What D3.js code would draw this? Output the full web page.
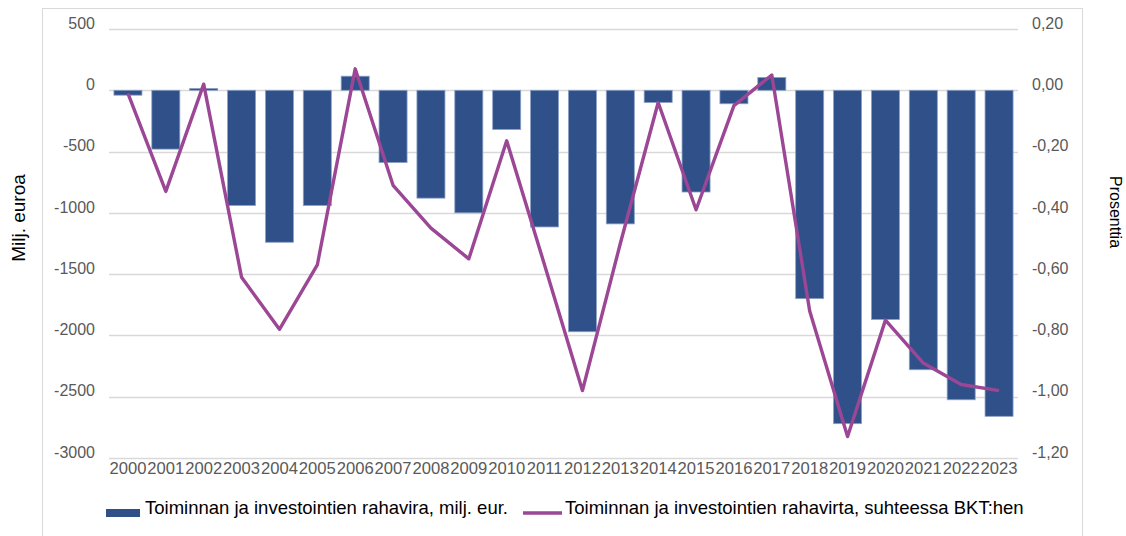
<!DOCTYPE html>
<html>
<head>
<meta charset="utf-8">
<script src="https://cdn.jsdelivr.net/npm/d3@7"></script>
<style>
  body { margin: 0; background: #fff; }
  svg { font-family: "Liberation Sans", Arial, sans-serif; }
  .tick text { fill: #595959; font-size: 16px; }
</style>
</head>
<body>
<div id="chart"></div>
<script>
// vuodet
var years = ["2000","2001","2002","2003","2004","2005","2006","2007","2008","2009","2010","2011",
             "2012","2013","2014","2015","2016","2017","2018","2019","2020","2021","2022","2023"];

// Toiminnan ja investointien rahavirta, milj. eur.
var cashFlow = [-40, -480, 15, -940, -1240, -940, 115, -590, -880, -1000, -320, -1115,
                -1970, -1090, -100, -830, -110, 105, -1700, -2720, -1870, -2280, -2525, -2660];

// suhteessa BKT:hen, %
var shareOfGdp = [-0.01, -0.33, 0.02, -0.61, -0.78, -0.57, 0.07, -0.31, -0.45, -0.55, -0.165, -0.57,
                  -0.98, -0.50, -0.04, -0.39, -0.05, 0.05, -0.72, -1.13, -0.75, -0.89, -0.96, -0.98];

var leftTicks = [500, 0, -500, -1000, -1500, -2000, -2500, -3000];
var rightTicks = [0.2, 0, -0.2, -0.4, -0.6, -0.8, -1.0, -1.2];

var barLabel = "Toiminnan ja investointien rahavira, milj. eur.";
var lineLabel = "Toiminnan ja investointien rahavirta, suhteessa BKT:hen";

var width = 1126, height = 536;
var plot = {left: 109, right: 1018, top: 29, bottom: 458};
var barColor = "#2f5089", lineColor = "#9b4795";

var svg = d3.select("#chart").append("svg")
    .attr("width", width)
    .attr("height", height);

// kehys
svg.append("rect")
    .attr("x", 42.5).attr("y", 8.5)
    .attr("width", 1040).attr("height", 560)
    .attr("fill", "none")
    .attr("stroke", "#d9d9d9");

var x = d3.scaleBand()
    .domain(years)
    .range([plot.left, plot.right])
    .paddingInner(0.26)
    .paddingOuter(0.13);

var yLeft = d3.scaleLinear().domain([-3000, 500]).range([plot.bottom, plot.top]);
var yRight = d3.scaleLinear().domain([-1.2, 0.2]).range([plot.bottom, plot.top]);

// gridlines
svg.append("g")
    .selectAll("line")
    .data(leftTicks)
    .enter().append("line")
    .attr("x1", plot.left).attr("x2", plot.right)
    .attr("y1", function(d){ return Math.round(yLeft(d)) + 0.5; })
    .attr("y2", function(d){ return Math.round(yLeft(d)) + 0.5; })
    .attr("stroke", "#d9d9d9")
    .attr("stroke-width", 1.3);

// vasen akseli (tavuviiva miinusmerkkinä)
var intFmt = function(d){ return String(d); };
var leftAxis = svg.append("g")
    .attr("transform", "translate(" + (plot.left - 14) + ",0)")
    .call(d3.axisLeft(yLeft).tickValues(leftTicks).tickSize(0).tickPadding(0).tickFormat(intFmt));
leftAxis.select(".domain").remove();
leftAxis.selectAll(".tick text").attr("dy", "-0.05em");

// oikea akseli
var commaFmt = function(d){ return d.toFixed(2).replace(".", ","); };
var rightAxis = svg.append("g")
    .attr("transform", "translate(" + (plot.right + 14) + ",0)")
    .call(d3.axisRight(yRight).tickValues(rightTicks).tickSize(0).tickPadding(0).tickFormat(commaFmt));
rightAxis.select(".domain").remove();
rightAxis.selectAll(".tick text").attr("dy", "-0.05em");

// x-akseli
var xAxis = svg.append("g")
    .attr("transform", "translate(0," + plot.bottom + ")")
    .call(d3.axisBottom(x).tickSize(0).tickPadding(4));
xAxis.select(".domain").remove();
xAxis.selectAll(".tick text").attr("dy", "0.71em").style("font-size", "16.6px");

// pylväät
svg.append("g")
    .selectAll("rect")
    .data(cashFlow)
    .enter().append("rect")
    .attr("x", function(d, i){ return x(years[i]); })
    .attr("width", x.bandwidth())
    .attr("y", function(d){ return yLeft(Math.max(0, d)); })
    .attr("height", function(d){ return Math.abs(yLeft(d) - yLeft(0)); })
    .attr("fill", barColor)
    .attr("stroke", "#8da2c6")
    .attr("stroke-width", 0.8);

// viiva
var line = d3.line()
    .x(function(d, i){ return x(years[i]) + x.bandwidth() / 2; })
    .y(function(d){ return yRight(d); });

svg.append("path")
    .datum(shareOfGdp)
    .attr("d", line)
    .attr("fill", "none")
    .attr("stroke", lineColor)
    .attr("stroke-width", 3.4)
    .attr("stroke-linejoin", "round");

// akselien otsikot
svg.append("text")
    .attr("transform", "translate(25,218) rotate(-90)")
    .attr("text-anchor", "middle")
    .style("font-size", "19px")
    .attr("fill", "#000")
    .text("Milj. euroa");

svg.append("text")
    .attr("transform", "translate(1110,212) rotate(90)")
    .attr("text-anchor", "middle")
    .style("font-size", "16px")
    .attr("fill", "#000")
    .text("Prosenttia");

// selite
var legend = svg.append("g");
legend.append("rect")
    .attr("x", 106).attr("y", 509)
    .attr("width", 34).attr("height", 8)
    .attr("fill", barColor);
legend.append("text")
    .attr("x", 145).attr("y", 514)
    .style("font-size", "18.5px")
    .attr("fill", "#000")
    .text(barLabel);
legend.append("line")
    .attr("x1", 523).attr("x2", 562)
    .attr("y1", 513).attr("y2", 513)
    .attr("stroke", lineColor)
    .attr("stroke-width", 3.4);
legend.append("text")
    .attr("x", 565).attr("y", 514)
    .style("font-size", "18.5px")
    .attr("fill", "#000")
    .text(lineLabel);
</script>
</body>
</html>
